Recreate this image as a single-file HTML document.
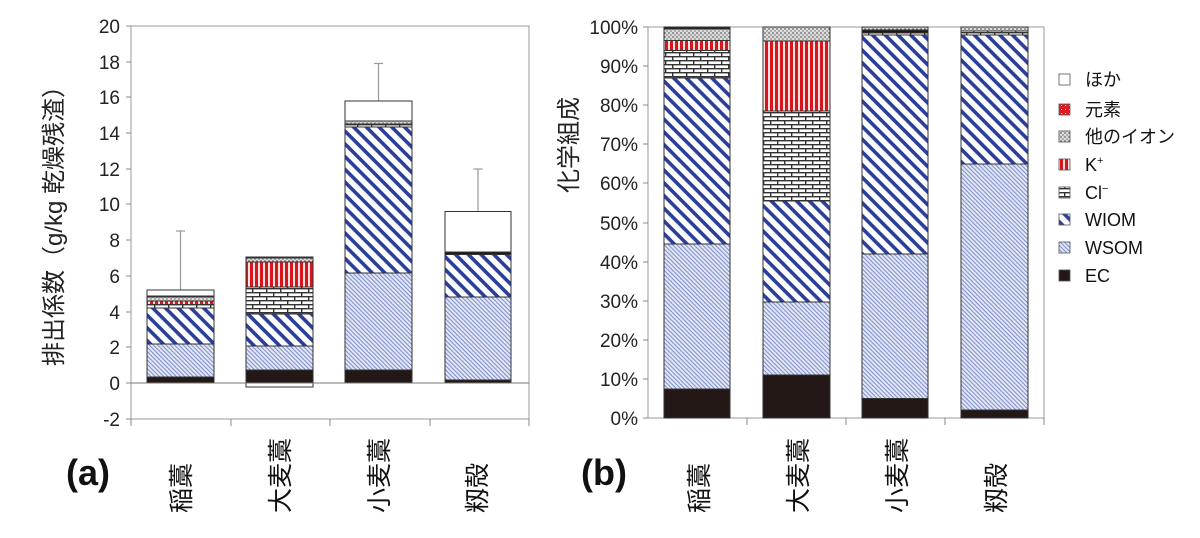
<!DOCTYPE html>
<html><head><meta charset="utf-8"><style>
body{margin:0;background:#fff}
svg{display:block;font-family:"Liberation Sans","Noto Sans CJK JP",sans-serif}
</style></head><body>
<svg width="1200" height="538" viewBox="0 0 1200 538" xmlns="http://www.w3.org/2000/svg">
<defs>
<pattern id="wiom" width="9" height="9" patternUnits="userSpaceOnUse" patternTransform="rotate(45)">
<rect width="9" height="9" fill="#fff"/><rect width="9" height="3.6" fill="#2b3f9a"/></pattern>
<pattern id="wsom" width="3" height="3" patternUnits="userSpaceOnUse" patternTransform="rotate(45)">
<rect width="3" height="3" fill="#e3e7f5"/><rect width="3" height="1" fill="#7d8dcc"/></pattern>
<pattern id="cl" width="14" height="8" patternUnits="userSpaceOnUse">
<rect width="14" height="8" fill="#fff"/><rect y="0" width="14" height="1.4" fill="#333"/><rect y="4" width="14" height="1.4" fill="#333"/>
<rect x="0" y="0" width="1.4" height="4" fill="#333"/><rect x="7" y="4" width="1.4" height="4" fill="#333"/></pattern>
<pattern id="kp" width="5" height="5" patternUnits="userSpaceOnUse">
<rect width="5" height="5" fill="#fbe3e3"/><rect width="3" height="5" fill="#d9151c"/></pattern>
<pattern id="oth" width="4" height="4" patternUnits="userSpaceOnUse">
<rect width="4" height="4" fill="#ddd"/><circle cx="1" cy="1" r="0.9" fill="#666"/><circle cx="3" cy="3" r="0.9" fill="#888"/></pattern>
<pattern id="elm" width="4" height="4" patternUnits="userSpaceOnUse">
<rect width="4" height="4" fill="#e01b22"/><rect x="1" y="1" width="1" height="1" fill="#fcc"/></pattern>
</defs>

<!-- ===== Chart (a) ===== -->
<rect x="131" y="26" width="398" height="393" fill="none" stroke="#999" stroke-width="1"/>
<g stroke="#888" stroke-width="1">
<line x1="126" y1="26" x2="131" y2="26"/><line x1="126" y1="62" x2="131" y2="62"/><line x1="126" y1="97" x2="131" y2="97"/>
<line x1="126" y1="133" x2="131" y2="133"/><line x1="126" y1="169" x2="131" y2="169"/><line x1="126" y1="204" x2="131" y2="204"/>
<line x1="126" y1="240" x2="131" y2="240"/><line x1="126" y1="276" x2="131" y2="276"/><line x1="126" y1="312" x2="131" y2="312"/>
<line x1="126" y1="347" x2="131" y2="347"/><line x1="126" y1="383" x2="131" y2="383"/><line x1="126" y1="419" x2="131" y2="419"/>
<line x1="131" y1="419" x2="131" y2="426"/><line x1="231" y1="419" x2="231" y2="426"/><line x1="330" y1="419" x2="330" y2="426"/>
<line x1="430" y1="419" x2="430" y2="426"/><line x1="529" y1="419" x2="529" y2="426"/>
</g>
<g font-size="19" fill="#222" text-anchor="end">
<text x="120" y="33">20</text><text x="120" y="69">18</text><text x="120" y="104">16</text><text x="120" y="140">14</text>
<text x="120" y="176">12</text><text x="120" y="211">10</text><text x="120" y="247">8</text><text x="120" y="283">6</text>
<text x="120" y="319">4</text><text x="120" y="354">2</text><text x="120" y="390">0</text><text x="120" y="426">-2</text>
</g>
<g stroke="#999" stroke-width="1.2">
<line x1="180.5" y1="290" x2="180.5" y2="231"/><line x1="176" y1="231" x2="185" y2="231"/>
<line x1="378.5" y1="101" x2="378.5" y2="63.5"/><line x1="374" y1="63.5" x2="383" y2="63.5"/>
<line x1="478" y1="211" x2="478" y2="169"/><line x1="473.5" y1="169" x2="482.5" y2="169"/>
</g>
<g stroke="#333" stroke-width="1">
<rect x="147" y="377" width="67" height="6" fill="#231815"/>
<rect x="147" y="344" width="67" height="33" fill="url(#wsom)"/>
<rect x="147" y="308" width="67" height="36" fill="url(#wiom)"/>
<rect x="147" y="304.5" width="67" height="3.5" fill="url(#cl)"/>
<rect x="147" y="301" width="67" height="3.5" fill="url(#kp)"/>
<rect x="147" y="297" width="67" height="4" fill="url(#oth)"/>
<rect x="147" y="296" width="67" height="1" fill="#e01b22"/>
<rect x="147" y="290" width="67" height="6" fill="#fff"/>

<rect x="246" y="383" width="67" height="4" fill="#fff"/>
<rect x="246" y="370" width="67" height="13" fill="#231815"/>
<rect x="246" y="346" width="67" height="24" fill="url(#wsom)"/>
<rect x="246" y="314" width="67" height="32" fill="url(#wiom)"/>
<rect x="246" y="287" width="67" height="27" fill="url(#cl)"/>
<rect x="246" y="262" width="67" height="25" fill="url(#kp)"/>
<rect x="246" y="258" width="67" height="4" fill="url(#oth)"/>
<rect x="246" y="257" width="67" height="1" fill="#231815"/>

<rect x="345" y="370" width="67" height="13" fill="#231815"/>
<rect x="345" y="273" width="67" height="97" fill="url(#wsom)"/>
<rect x="345" y="127" width="67" height="146" fill="url(#wiom)"/>
<rect x="345" y="124" width="67" height="3" fill="url(#cl)"/>
<rect x="345" y="121" width="67" height="3" fill="url(#oth)"/>
<rect x="345" y="101" width="67" height="20" fill="#fff"/>

<rect x="445" y="380" width="66" height="3" fill="#231815"/>
<rect x="445" y="297" width="66" height="83" fill="url(#wsom)"/>
<rect x="445" y="254.5" width="66" height="42.5" fill="url(#wiom)"/>
<rect x="445" y="252" width="66" height="2.5" fill="#231815"/>
<rect x="445" y="211.5" width="66" height="40.5" fill="#fff"/>
</g>
<line x1="131" y1="383" x2="529" y2="383" stroke="#777" stroke-width="1"/>
<text x="62" y="220" font-size="24" fill="#222" text-anchor="middle" transform="rotate(-90 62 220)">排出係数（g/kg 乾燥残渣）</text>
<text x="88" y="485" font-size="36" font-weight="bold" fill="#111" text-anchor="middle">(a)</text>
<g font-size="25" fill="#111">
<text transform="translate(190 513) rotate(-90)">稲藁</text>
<text transform="translate(289 513) rotate(-90)">大麦藁</text>
<text transform="translate(388 513) rotate(-90)">小麦藁</text>
<text transform="translate(486 513) rotate(-90)">籾殻</text>
</g>

<!-- ===== Chart (b) ===== -->
<rect x="648" y="27" width="396" height="391" fill="none" stroke="#999" stroke-width="1"/>
<g stroke="#888" stroke-width="1">
<line x1="643" y1="27" x2="648" y2="27"/><line x1="643" y1="66" x2="648" y2="66"/><line x1="643" y1="105" x2="648" y2="105"/>
<line x1="643" y1="144" x2="648" y2="144"/><line x1="643" y1="183" x2="648" y2="183"/><line x1="643" y1="223" x2="648" y2="223"/>
<line x1="643" y1="262" x2="648" y2="262"/><line x1="643" y1="301" x2="648" y2="301"/><line x1="643" y1="340" x2="648" y2="340"/>
<line x1="643" y1="379" x2="648" y2="379"/><line x1="643" y1="418" x2="648" y2="418"/>
<line x1="747" y1="418" x2="747" y2="425"/><line x1="846" y1="418" x2="846" y2="425"/><line x1="945" y1="418" x2="945" y2="425"/><line x1="1044" y1="418" x2="1044" y2="425"/>
</g>
<g font-size="19" fill="#222" text-anchor="end">
<text x="638" y="34">100%</text><text x="638" y="73">90%</text><text x="638" y="112">80%</text><text x="638" y="151">70%</text>
<text x="638" y="190">60%</text><text x="638" y="230">50%</text><text x="638" y="269">40%</text><text x="638" y="308">30%</text>
<text x="638" y="347">20%</text><text x="638" y="386">10%</text><text x="638" y="425">0%</text>
</g>
<g stroke="#333" stroke-width="1">
<rect x="664" y="389" width="66" height="29" fill="#231815"/>
<rect x="664" y="244" width="66" height="145" fill="url(#wsom)"/>
<rect x="664" y="78" width="66" height="166" fill="url(#wiom)"/>
<rect x="664" y="50.5" width="66" height="27.5" fill="url(#cl)"/>
<rect x="664" y="40.5" width="66" height="10" fill="url(#kp)"/>
<rect x="664" y="29" width="66" height="11.5" fill="url(#oth)"/>
<rect x="664" y="27" width="66" height="2" fill="#231815"/>

<rect x="763" y="375" width="67" height="43" fill="#231815"/>
<rect x="763" y="302" width="67" height="73" fill="url(#wsom)"/>
<rect x="763" y="201" width="67" height="101" fill="url(#wiom)"/>
<rect x="763" y="111" width="67" height="90" fill="url(#cl)"/>
<rect x="763" y="41" width="67" height="70" fill="url(#kp)"/>
<rect x="763" y="27" width="67" height="14" fill="url(#oth)"/>

<rect x="862" y="398.5" width="66" height="19.5" fill="#231815"/>
<rect x="862" y="254" width="66" height="144.5" fill="url(#wsom)"/>
<rect x="862" y="35" width="66" height="219" fill="url(#wiom)"/>
<rect x="862" y="33" width="66" height="2" fill="url(#cl)"/>
<rect x="862" y="30" width="66" height="3" fill="#231815"/>
<rect x="862" y="27" width="66" height="3" fill="url(#oth)"/>

<rect x="961" y="410" width="67" height="8" fill="#231815"/>
<rect x="961" y="164" width="67" height="246" fill="url(#wsom)"/>
<rect x="961" y="35" width="67" height="129" fill="url(#wiom)"/>
<rect x="961" y="31" width="67" height="4" fill="url(#cl)"/>
<rect x="961" y="27" width="67" height="4" fill="url(#oth)"/>
</g>
<text x="577" y="145" font-size="24" fill="#222" text-anchor="middle" transform="rotate(-90 577 145)">化学組成</text>
<text x="604" y="485" font-size="36" font-weight="bold" fill="#111" text-anchor="middle">(b)</text>
<g font-size="25" fill="#111">
<text transform="translate(708 513) rotate(-90)">稲藁</text>
<text transform="translate(807 513) rotate(-90)">大麦藁</text>
<text transform="translate(906 513) rotate(-90)">小麦藁</text>
<text transform="translate(1005 513) rotate(-90)">籾殻</text>
</g>

<g stroke="#555" stroke-width="0.8">
<rect x="1059" y="74" width="11" height="11" fill="#fff"/>
<rect x="1059" y="104" width="11" height="11" fill="url(#elm)"/>
<rect x="1059" y="131" width="11" height="11" fill="url(#oth)"/>
<rect x="1059" y="159" width="11" height="11" fill="url(#kp)"/>
<rect x="1059" y="187" width="11" height="11" fill="url(#cl)"/>
<rect x="1059" y="214" width="11" height="11" fill="url(#wiom)"/>
<rect x="1059" y="242" width="11" height="11" fill="url(#wsom)"/>
<rect x="1059" y="270" width="11" height="11" fill="#231815"/>
</g>
<g font-size="18" fill="#111">
<text x="1085" y="86">ほか</text>
<text x="1085" y="116">元素</text>
<text x="1085" y="143">他のイオン</text>
<text x="1085" y="171">K<tspan font-size="11" dy="-7">+</tspan></text>
<text x="1085" y="199">Cl<tspan font-size="11" dy="-7">−</tspan></text>
<text x="1085" y="226">WIOM</text>
<text x="1085" y="254">WSOM</text>
<text x="1085" y="282">EC</text>
</g>
</svg>
</body></html>
